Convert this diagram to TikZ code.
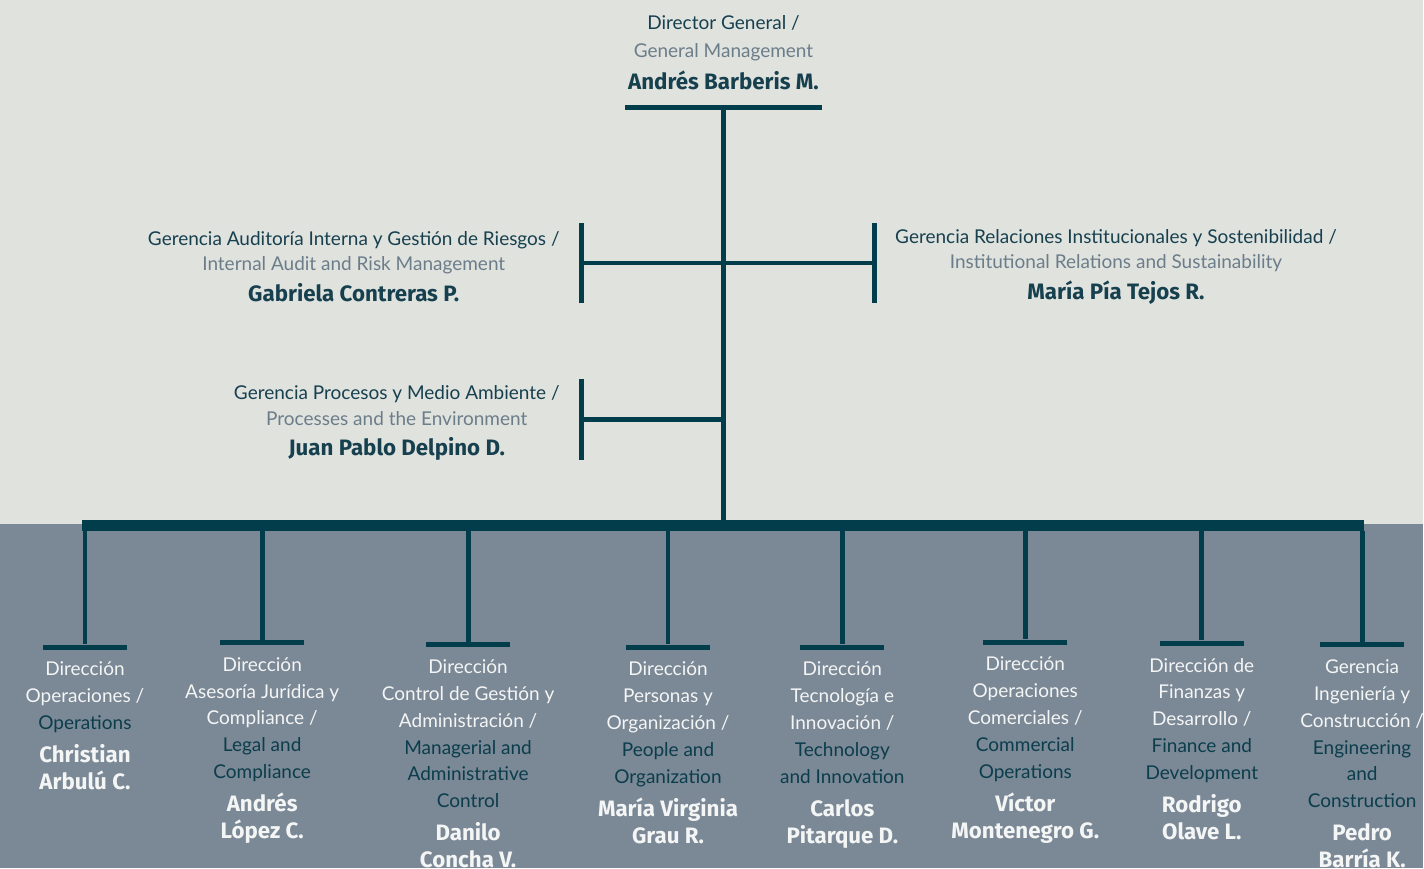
\documentclass[tikz,border=0pt]{standalone}
\usepackage{fontspec}
\setmainfont{Lato}
\newfontfamily\namefont{Fira Sans}
\usetikzlibrary{positioning}
\definecolor{bgtop}{HTML}{E0E2DE}
\definecolor{bgbot}{HTML}{7B8896}
\definecolor{linec}{HTML}{023D4C}
\definecolor{esp}{HTML}{17404F}
\definecolor{engtop}{HTML}{6C7D8A}
\definecolor{engbot}{HTML}{0B3D4C}
\definecolor{esplight}{HTML}{F4F5F5}
\newcommand\pname[1]{{\namefont\bfseries\fontsize{22.3}{26.8}\selectfont #1}}

\begin{document}
\begin{tikzpicture}[x=1pt,y=-1pt,
    bar/.style={fill=linec,inner sep=0pt,minimum width=84pt,minimum height=5pt},
    post/.style={fill=linec,inner sep=0pt,minimum width=5pt,minimum height=80pt},
    link/.style={draw=linec,line width=4.8pt},
    head/.style={align=center,inner sep=0pt,font=\fontsize{19}{25.5}\selectfont,text=esp,execute at begin node={\rule{0pt}{18.8pt}}},
    unit/.style={head,font=\fontsize{19}{26.8}\selectfont,text=esplight}]

    \fill[bgtop] (0,0) rectangle (1424,524);
    \fill[bgbot] (0,524) rectangle (1424,868);

    \node[bar,minimum width=197.7pt] (tbar) at (723.8,107.5) {};
    \node[post] (audbar) at (581.7,263) {};
    \node[post] (relbar) at (874.7,263) {};
    \node[post,minimum height=81pt] (procbar) at (581.7,419.5) {};
    \node[bar,minimum width=1283.3pt,minimum height=10.3pt] (mbar) at (723.35,525.8) {};

    \node[bar] (f1) at (85,647.3) {};
    \node[bar] (f2) at (262.3,642.7) {};
    \node[bar] (f3) at (468.3,645) {};
    \node[bar] (f4) at (668.3,647.3) {};
    \node[bar] (f5) at (842.7,647.3) {};
    \node[bar] (f6) at (1025.7,642.3) {};
    \node[bar] (f7) at (1202.3,643.3) {};
    \node[bar] (f8) at (1362.7,645) {};

    \node[head,font=\fontsize{19}{27.5}\selectfont,above=15pt of tbar] (dg) {Director General /\\\textcolor{engtop}{General Management}\\[4.6pt]\pname{Andrés Barberis M.}};
    \node[head,left=19pt of audbar,yshift=-4pt] (aud) {Gerencia Auditoría Interna y Gestión de Riesgos /\\\textcolor{engtop}{Internal Audit and Risk Management}\\[5.5pt]\pname{Gabriela Contreras P.}};
    \node[head,right=18pt of relbar,yshift=-4pt] (rel) {Gerencia Relaciones Institucionales y Sostenibilidad /\\\textcolor{engtop}{Institutional Relations and Sustainability}\\[5.5pt]\pname{María Pía Tejos R.}};
    \node[head,left=19pt of procbar,yshift=-4pt] (proc) {Gerencia Procesos y Medio Ambiente /\\\textcolor{engtop}{Processes and the Environment}\\[5pt]\pname{Juan Pablo Delpino D.}};

    \node[unit,below=12.2pt of f1] (d1) {Dirección\\Operaciones /\\\textcolor{engbot}{Operations}\\[6.5pt]\pname{Christian}\\\pname{Arbulú C.}};
    \node[unit,below=12.2pt of f2] (d2) {Dirección\\Asesoría Jurídica y\\Compliance /\\\textcolor{engbot}{Legal and}\\\textcolor{engbot}{Compliance}\\[6.5pt]\pname{Andrés}\\\pname{López C.}};
    \node[unit,below=12.2pt of f3] (d3) {Dirección\\Control de Gestión y\\Administración /\\\textcolor{engbot}{Managerial and}\\\textcolor{engbot}{Administrative}\\\textcolor{engbot}{Control}\\[6.5pt]\pname{Danilo}\\\pname{Concha V.}};
    \node[unit,below=12.2pt of f4] (d4) {Dirección\\Personas y\\Organización /\\\textcolor{engbot}{People and}\\\textcolor{engbot}{Organization}\\[6.5pt]\pname{María Virginia}\\\pname{Grau R.}};
    \node[unit,below=12.2pt of f5] (d5) {Dirección\\Tecnología e\\Innovación /\\\textcolor{engbot}{Technology}\\\textcolor{engbot}{and Innovation}\\[6.5pt]\pname{Carlos}\\\pname{Pitarque D.}};
    \node[unit,below=12.2pt of f6] (d6) {Dirección\\Operaciones\\Comerciales /\\\textcolor{engbot}{Commercial}\\\textcolor{engbot}{Operations}\\[6.5pt]\pname{Víctor}\\\pname{Montenegro G.}};
    \node[unit,below=12.2pt of f7] (d7) {Dirección de\\Finanzas y\\Desarrollo /\\\textcolor{engbot}{Finance and}\\\textcolor{engbot}{Development}\\[6.5pt]\pname{Rodrigo}\\\pname{Olave L.}};
    \node[unit,below=12.2pt of f8] (d8) {Gerencia\\Ingeniería y\\Construcción /\\\textcolor{engbot}{Engineering}\\\textcolor{engbot}{and}\\\textcolor{engbot}{Construction}\\[6.5pt]\pname{Pedro}\\\pname{Barría K.}};

    \path[every edge/.style={link}]
        (tbar) edge (tbar |- mbar.north)
        (audbar) edge (relbar)
        (procbar) edge (procbar -| tbar)
        (f1 |- mbar.south) edge (f1)
        (f2 |- mbar.south) edge (f2)
        (f3 |- mbar.south) edge (f3)
        (f4 |- mbar.south) edge (f4)
        (f5 |- mbar.south) edge (f5)
        (f6 |- mbar.south) edge (f6)
        (f7 |- mbar.south) edge (f7)
        (f8 |- mbar.south) edge (f8)
        ;
\end{tikzpicture}
\end{document}
